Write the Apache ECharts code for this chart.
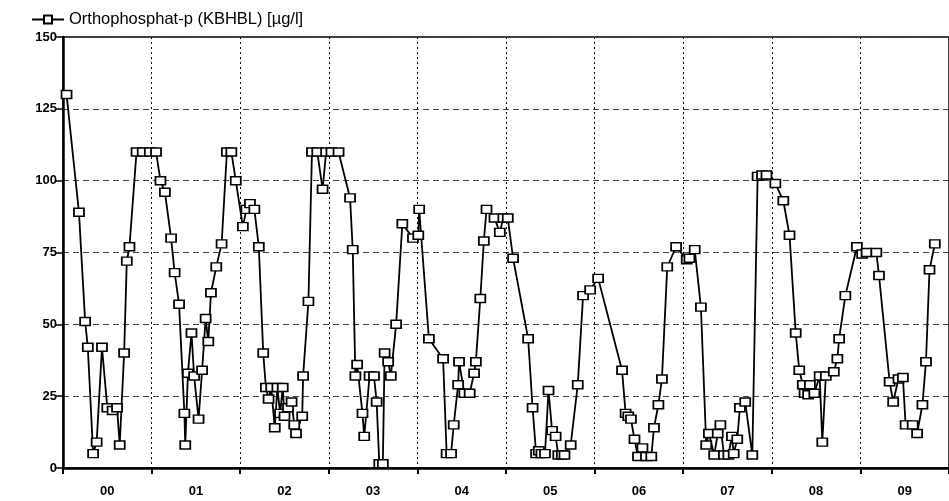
<!DOCTYPE html>
<html>
<head>
<meta charset="utf-8">
<title>Orthophosphat-p (KBHBL)</title>
<script src="https://cdn.jsdelivr.net/npm/echarts@6/dist/echarts.min.js"></script>
<style>
  html, body { margin: 0; padding: 0; background: #fff; }
  #chart { width: 949px; height: 501px; }
</style>
</head>
<body>
<div id="chart"></div>
<script>
// Sampling dates as decimal years
const sampleYears = [
  2000.04, 2000.18, 2000.25, 2000.28, 2000.34, 2000.38, 2000.44, 2000.50, 2000.56, 2000.61,
  2000.64, 2000.69, 2000.72, 2000.75, 2000.83, 2000.90, 2000.98, 2001.05, 2001.10, 2001.15,
  2001.22, 2001.26, 2001.31, 2001.37, 2001.38, 2001.41, 2001.45, 2001.48, 2001.53, 2001.57,
  2001.61, 2001.64, 2001.67, 2001.73, 2001.79, 2001.85, 2001.90, 2001.95, 2002.03, 2002.07,
  2002.11, 2002.16, 2002.21, 2002.26, 2002.29, 2002.32, 2002.35, 2002.39, 2002.42, 2002.45,
  2002.48, 2002.50, 2002.54, 2002.58, 2002.61, 2002.63, 2002.70, 2002.71, 2002.77, 2002.81,
  2002.87, 2002.93, 2002.97, 2003.03, 2003.11, 2003.24, 2003.27, 2003.30, 2003.32, 2003.38,
  2003.40, 2003.46, 2003.51, 2003.54, 2003.57, 2003.61, 2003.63, 2003.67, 2003.70, 2003.76,
  2003.83, 2003.95, 2004.01, 2004.02, 2004.13, 2004.29, 2004.33, 2004.38, 2004.41, 2004.46,
  2004.47, 2004.53, 2004.59, 2004.64, 2004.66, 2004.71, 2004.75, 2004.78, 2004.87, 2004.93,
  2004.97, 2005.02, 2005.08, 2005.25, 2005.30, 2005.34, 2005.37, 2005.40, 2005.44, 2005.48,
  2005.52, 2005.56, 2005.59, 2005.63, 2005.66, 2005.73, 2005.81, 2005.87, 2005.95, 2006.04,
  2006.31, 2006.35, 2006.38, 2006.41, 2006.45, 2006.49, 2006.54, 2006.58, 2006.64, 2006.67,
  2006.72, 2006.76, 2006.82, 2006.92, 2007.04, 2007.07, 2007.13, 2007.20, 2007.26, 2007.29,
  2007.35, 2007.39, 2007.42, 2007.46, 2007.51, 2007.55, 2007.57, 2007.61, 2007.64, 2007.70,
  2007.78, 2007.84, 2007.89, 2007.94, 2008.04, 2008.13, 2008.20, 2008.27, 2008.31, 2008.35,
  2008.37, 2008.41, 2008.43, 2008.48, 2008.54, 2008.57, 2008.61, 2008.70, 2008.74, 2008.76,
  2008.83, 2008.96, 2009.02, 2009.07, 2009.18, 2009.21, 2009.33, 2009.37, 2009.43, 2009.48,
  2009.51, 2009.59, 2009.64, 2009.70, 2009.74, 2009.78, 2009.84
];

// Orthophosphate-P concentrations [µg/l]
const orthoP = [
  130, 89, 51, 42, 5, 9, 42, 21, 20, 21,
  8, 40, 72, 77, 110, 110, 110, 110, 100, 96,
  80, 68, 57, 19, 8, 33, 47, 32, 17, 34,
  52, 44, 61, 70, 78, 110, 110, 100, 84, 90,
  92, 90, 77, 40, 28, 24, 28, 14, 28, 19,
  28, 18, 21, 23, 15, 12, 18, 32, 58, 110,
  110, 97, 110, 110, 110, 94, 76, 32, 36, 19,
  11, 32, 32, 23, 1.5, 1.5, 40, 37, 32, 50,
  85, 80, 81, 90, 45, 38, 5, 5, 15, 29,
  37, 26, 26, 33, 37, 59, 79, 90, 87, 82,
  87, 87, 73, 45, 21, 5, 6, 5, 5, 27,
  13, 11, 4.5, 4.5, 4.5, 8, 29, 60, 62, 66,
  34, 19, 18, 17, 10, 4, 7, 4, 4, 14,
  22, 31, 70, 77, 72.5, 73, 76, 56, 8, 12,
  4.5, 12, 15, 4.5, 4.5, 11, 5, 10, 21, 23,
  4.5, 101.5, 102, 102, 99, 93, 81, 47, 34, 29,
  26, 25.5, 29, 26, 32, 9, 32, 33.5, 38, 45,
  60, 77, 74.5, 75, 75, 67, 30, 23, 31, 31.5,
  15, 15, 12, 22, 37, 69, 78
];

// Year labels shown centred in each year band
const yearLabels = ['00', '01', '02', '03', '04', '05', '06', '07', '08', '09'];

// Y axis range
const yMin = 0, yMax = 150, yStep = 25;

const seriesName = 'Orthophosphat-p (KBHBL) [µg/l]';
const points = sampleYears.map((t, i) => [t, orthoP[i]]);

const chart = echarts.init(document.getElementById('chart'), null, { renderer: 'canvas' });

chart.setOption({
  animation: false,
  backgroundColor: '#ffffff',
  textStyle: { fontFamily: 'Liberation Sans, Arial, sans-serif' },
  legend: {
    left: 26,
    top: 6,
    itemWidth: 32,
    itemHeight: 10,
    itemGap: 6,
    textStyle: { fontSize: 16.5, color: '#000', fontFamily: 'Liberation Sans, Arial, sans-serif' },
    data: [seriesName]
  },
  grid: {
    left: 63,
    top: 37,
    bottom: 33,
    right: -8,
    show: true,
    borderColor: '#000',
    borderWidth: 1.5,
    containLabel: false
  },
  xAxis: [
    {
      type: 'value',
      min: 2000,
      max: 2010,
      show: false
    },
    {
      type: 'category',
      position: 'bottom',
      data: yearLabels,
      boundaryGap: true,
      axisLine: { show: true, lineStyle: { color: '#000', width: 2.5 } },
      axisTick: { show: true, length: 6, lineStyle: { color: '#000', width: 2 } },
      axisLabel: {
        color: '#000',
        fontSize: 13,
        fontWeight: 'bold',
        margin: 17,
        fontFamily: 'Liberation Sans, Arial, sans-serif'
      },
      splitLine: { show: true, lineStyle: { color: '#000', width: 1, type: [2, 3] } }
    }
  ],
  yAxis: {
    type: 'value',
    min: yMin,
    max: yMax,
    interval: yStep,
    axisLine: { show: true, lineStyle: { color: '#000', width: 2.5 } },
    axisTick: { show: true, length: 8, lineStyle: { color: '#000', width: 1.5 } },
    axisLabel: {
      color: '#000',
      fontSize: 13,
      fontWeight: 'bold',
      margin: 6,
      fontFamily: 'Liberation Sans, Arial, sans-serif'
    },
    splitLine: { show: true, lineStyle: { color: '#444', width: 1, type: [6, 4] } }
  },
  series: [
    {
      name: seriesName,
      type: 'line',
      xAxisIndex: 0,
      data: points,
      symbol: 'rect',
      symbolSize: [10, 8],
      showAllSymbol: true,
      lineStyle: { color: '#000', width: 1.8 },
      itemStyle: { color: '#fff', borderColor: '#000', borderWidth: 1.6 },
      emphasis: { disabled: true },
      z: 5
    }
  ]
});
</script>
</body>
</html>
